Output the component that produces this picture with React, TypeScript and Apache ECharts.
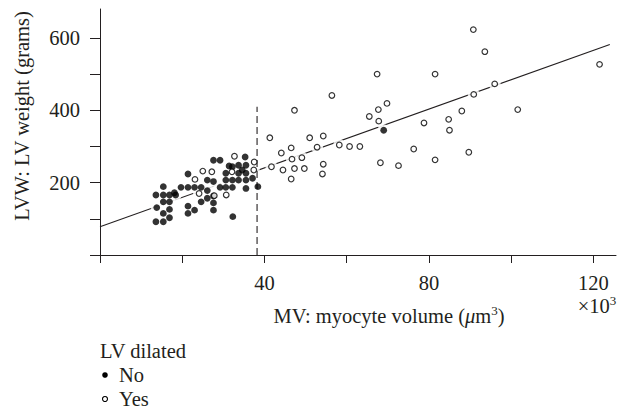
import React, { useEffect, useRef } from "react";
import * as echarts from "echarts";

// LV dilated = No (filled)
const noX = [13.6, 15.4, 16.9, 18.4, 15.4, 13.8, 15.4, 16.9, 15.4, 16.9, 13.6, 15.4, 16.9, 18.1, 19.7, 21.4, 23.0, 21.4, 21.4, 21.4, 23.0, 24.6, 24.6, 26.1, 26.1, 26.1, 27.6, 29.2, 27.6, 27.6, 27.6, 27.6, 29.2, 30.6, 30.6, 30.6, 31.4, 32.2, 32.2, 32.2, 32.3, 33.7, 33.7, 33.7, 35.5, 35.5, 35.5, 35.5, 35.3, 37.1, 38.4, 34.6, 69.0];
const noY = [166, 189, 166, 166, 166, 131, 115, 126, 147, 147, 92, 92, 103, 172, 187, 187, 187, 224, 135, 115, 124, 187, 147, 207, 178, 157, 262, 262, 163, 144, 124, 203, 187, 226, 207, 187, 246, 244, 207, 187, 106, 248, 226, 207, 248, 226, 207, 184, 271, 212, 189, 235, 345];

// LV dilated = Yes (open)
const yesX = [90.8, 93.6, 121.5, 67.4, 81.5, 96.0, 56.4, 90.9, 101.6, 69.8, 67.7, 65.5, 67.8, 88.0, 84.8, 85.0, 78.8, 51.0, 54.3, 52.8, 58.2, 60.7, 63.2, 76.3, 89.7, 49.1, 49.7, 54.3, 54.1, 68.2, 72.6, 81.5, 47.3, 41.3, 46.5, 44.1, 46.7, 41.7, 44.5, 47.3, 46.5, 37.5, 37.4, 32.7, 25.0, 27.2, 23.1, 24.1, 27.8, 30.7, 32.1];
const yesY = [623, 562, 527, 500, 500, 473, 441, 444, 402, 419, 402, 383, 370, 398, 375, 345, 365, 324, 329, 298, 304, 300, 300, 293, 284, 269, 239, 251, 224, 255, 247, 263, 400, 324, 296, 282, 265, 244, 235, 239, 210, 257, 235, 273, 232, 230, 209, 170, 164, 166, 230];

// regression line end points and MV threshold line
const fitX = [0, 124];
const fitY = [78, 582];
const cutX = [38.2, 38.2];
const cutY = [0, 410];

const xTickLabels = [40, 80, 120];
const yTickLabels = [200, 400, 600];

const FONT = "'Liberation Serif', 'Times New Roman', serif";
const INK = "#231f20";
const FS = 20.5;

export default function App() {
  const ref = useRef<HTMLDivElement>(null);
  useEffect(() => {
    document.body.style.margin = "0";
    const chart = echarts.init(ref.current!, null, { renderer: "svg" });
    const noPts = noX.map((x, i) => [x, noY[i]]);
    const yesPts = yesX.map((x, i) => [x, yesY[i]]);
    const allPts = noPts.concat(yesPts);
    const option = {
      animation: false,
      backgroundColor: "#ffffff",
      grid: { left: 100, right: 3, top: 9, bottom: 156 },
      xAxis: {
        type: "value",
        min: 0,
        max: 125.5,
        interval: 20,
        axisLine: { show: true, onZero: false, lineStyle: { color: INK, width: 1 } },
        axisTick: { show: true, inside: false, length: 8, lineStyle: { color: INK } },
        axisLabel: {
          margin: 17,
          fontFamily: FONT,
          fontSize: FS,
          color: INK,
          showMaxLabel: false,
          formatter: (v: number) => (xTickLabels.indexOf(v) >= 0 ? String(v) : ""),
        },
        splitLine: { show: false },
      },
      yAxis: {
        type: "value",
        min: 0,
        max: 680,
        interval: 100,
        axisLine: { show: true, onZero: false, lineStyle: { color: INK, width: 1 } },
        axisTick: { show: true, inside: false, length: 10, lineStyle: { color: INK } },
        axisLabel: {
          margin: 20,
          fontFamily: FONT,
          fontSize: FS,
          color: INK,
          showMaxLabel: false,
          formatter: (v: number) => (yTickLabels.indexOf(v) >= 0 ? String(v) : ""),
        },
        splitLine: { show: false },
      },
      series: [
        {
          type: "line",
          data: fitX.map((x, i) => [x, fitY[i]]),
          symbol: "none",
          lineStyle: { color: INK, width: 1.1 },
          z: 1,
          silent: true,
        },
        {
          type: "scatter",
          data: allPts,
          symbolSize: 12,
          itemStyle: { color: "#ffffff" },
          z: 2,
          silent: true,
        },
        {
          type: "line",
          data: cutX.map((x, i) => [x, cutY[i]]),
          symbol: "none",
          lineStyle: { color: INK, width: 1.1, type: [7, 4] },
          z: 3,
          silent: true,
        },
        {
          name: "No",
          type: "scatter",
          data: noPts,
          symbolSize: 6.8,
          itemStyle: { color: "#000000" },
          z: 4,
        },
        {
          name: "Yes",
          type: "scatter",
          data: yesPts,
          symbolSize: 5.6,
          itemStyle: { color: "#ffffff", borderColor: "#000000", borderWidth: 1.2 },
          z: 5,
        },
      ],
      graphic: [
        {
          type: "text",
          x: 22,
          y: 116,
          rotation: Math.PI / 2,
          style: {
            text: "LVW: LV weight (grams)",
            font: `${FS}px ${FONT}`,
            fill: INK,
            textAlign: "center",
            textVerticalAlign: "middle",
          },
        },
        {
          type: "text",
          x: 389,
          y: 316,
          style: {
            text: "{n|MV: myocyte volume (}{i|μ}{n|m}{s|3}{n|)}",
            fill: INK,
            textAlign: "center",
            textVerticalAlign: "middle",
            rich: {
              n: { fontFamily: FONT, fontSize: FS, lineHeight: 24, fill: INK },
              i: { fontFamily: FONT, fontSize: FS, lineHeight: 24, fontStyle: "italic", fill: INK },
              s: { fontFamily: FONT, fontSize: 13, lineHeight: 15, verticalAlign: "top", fill: INK },
            },
          },
        },
        {
          type: "text",
          x: 597,
          y: 306,
          style: {
            text: "{n|×10}{s|3}",
            fill: INK,
            textAlign: "center",
            textVerticalAlign: "middle",
            rich: {
              n: { fontFamily: FONT, fontSize: FS, lineHeight: 24, fill: INK },
              s: { fontFamily: FONT, fontSize: 13, lineHeight: 15, verticalAlign: "top", fill: INK },
            },
          },
        },
        {
          type: "text",
          x: 100,
          y: 351,
          style: { text: "LV dilated", font: `${FS}px ${FONT}`, fill: INK, textVerticalAlign: "middle" },
        },
        {
          type: "circle",
          shape: { cx: 105, cy: 375, r: 2.8 },
          style: { fill: "#000000" },
        },
        {
          type: "text",
          x: 119,
          y: 375,
          style: { text: "No", font: `${FS}px ${FONT}`, fill: INK, textVerticalAlign: "middle" },
        },
        {
          type: "circle",
          shape: { cx: 105, cy: 399, r: 2.5 },
          style: { fill: "#ffffff", stroke: "#000000", lineWidth: 1.1 },
        },
        {
          type: "text",
          x: 119,
          y: 399,
          style: { text: "Yes", font: `${FS}px ${FONT}`, fill: INK, textVerticalAlign: "middle" },
        },
      ],
    };
    chart.setOption(option as any);
    return () => chart.dispose();
  }, []);
  return <div ref={ref} style={{ width: 619, height: 411 }} />;
}
